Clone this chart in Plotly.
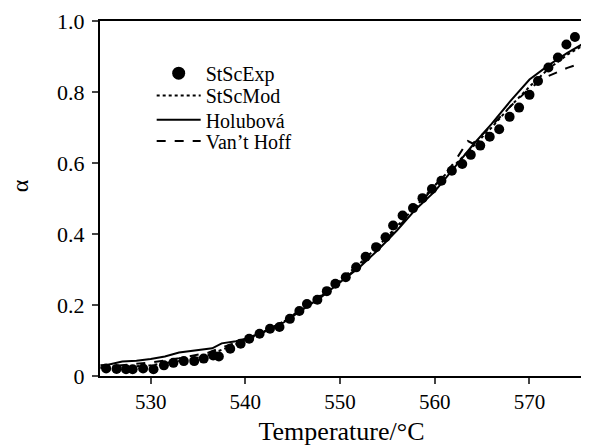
import plotly.graph_objects as go

# Experimental points (StScExp)
exp_T = [525.3, 526.4, 527.4, 528.1, 529.2, 530.3, 531.4, 532.4, 533.5, 534.6, 535.6, 536.6, 537.2,
         538.4, 539.5, 540.4, 541.5, 542.6, 543.6, 544.7, 545.7, 546.5, 547.6, 548.6, 549.5, 550.6,
         551.7, 552.7, 553.8, 554.8, 555.6, 556.6, 557.7, 558.7, 559.7, 560.7, 561.8, 562.9, 563.8,
         564.8, 565.8, 566.8, 567.9, 568.9, 570.0, 570.9, 572.0, 573.0, 573.9, 574.8]
exp_a = [0.021, 0.020, 0.019, 0.019, 0.021, 0.019, 0.030, 0.037, 0.042, 0.042, 0.049, 0.058, 0.055,
         0.077, 0.091, 0.105, 0.119, 0.133, 0.138, 0.161, 0.183, 0.203, 0.215, 0.239, 0.260, 0.278,
         0.306, 0.336, 0.363, 0.391, 0.424, 0.452, 0.473, 0.501, 0.527, 0.550, 0.578, 0.597, 0.623,
         0.649, 0.674, 0.695, 0.730, 0.756, 0.792, 0.831, 0.869, 0.897, 0.934, 0.955]

# StScMod (dotted)
mod_T = [524.7, 527, 530, 532, 534, 536, 538, 540, 542, 544, 546, 548, 550, 552, 554, 556, 558,
         560, 562, 564, 566, 568, 570, 572, 574, 575.6]
mod_a = [0.022, 0.025, 0.030, 0.038, 0.046, 0.058, 0.078, 0.100, 0.125, 0.152, 0.190, 0.228, 0.270,
         0.315, 0.365, 0.420, 0.478, 0.537, 0.592, 0.645, 0.700, 0.760, 0.815, 0.865, 0.905, 0.930]

# Holubová (solid)
hol_T = [524.7, 525.5, 527, 528.5, 530, 531.5, 533, 535, 536.5, 537.5, 539, 540, 542, 544, 546, 548,
         550, 552, 554, 556, 558, 560, 562, 564, 566, 568, 570, 572, 574, 575.6]
hol_a = [0.030, 0.032, 0.041, 0.043, 0.048, 0.055, 0.066, 0.072, 0.078, 0.092, 0.098, 0.105, 0.125,
         0.150, 0.185, 0.222, 0.264, 0.305, 0.355, 0.410, 0.470, 0.520, 0.585, 0.650, 0.710, 0.775,
         0.835, 0.875, 0.910, 0.935]

# Van't Hoff (dashed)
vh_T = [524.7, 527, 530, 533, 536, 538, 540, 542, 544, 546, 548, 550, 552, 554, 556, 558, 560, 562,
        563.5, 564, 566, 568, 570, 572, 574, 575.6]
vh_a = [0.025, 0.030, 0.038, 0.050, 0.065, 0.085, 0.103, 0.125, 0.153, 0.188, 0.225, 0.265, 0.308,
        0.360, 0.415, 0.472, 0.535, 0.600, 0.662, 0.655, 0.705, 0.760, 0.810, 0.845, 0.868, 0.882]

x_ticks = [530, 540, 550, 560, 570]
y_ticks = [0, 0.2, 0.4, 0.6, 0.8, 1.0]
y_ticktext = ["0", "0.2", "0.4", "0.6", "0.8", "1.0"]

FONT = "Liberation Serif, Times New Roman, serif"

fig = go.Figure()
fig.add_trace(go.Scatter(x=exp_T, y=exp_a, mode="markers", name="StScExp", showlegend=False,
                         marker=dict(color="black", size=10)))
fig.add_trace(go.Scatter(x=[None], y=[None], mode="markers", name="StScExp", legend="legend",
                         marker=dict(color="black", size=13)))
fig.add_trace(go.Scatter(x=mod_T, y=mod_a, mode="lines", name="StScMod", legend="legend2",
                         line=dict(color="black", width=2, dash="dot")))
fig.add_trace(go.Scatter(x=hol_T, y=hol_a, mode="lines", name="Holubová", legend="legend3",
                         line=dict(color="black", width=2)))
fig.add_trace(go.Scatter(x=vh_T, y=vh_a, mode="lines", name="Van’t Hoff", legend="legend4",
                         line=dict(color="black", width=2, dash="dash")))

leg_common = dict(x=0.107, xanchor="left", yanchor="middle", bgcolor="rgba(0,0,0,0)",
                  font=dict(size=20, family=FONT, color="black"), itemwidth=44)
fig.update_layout(
    width=581, height=439,
    margin=dict(l=92, r=6, t=13, b=71),
    paper_bgcolor="white", plot_bgcolor="white",
    font=dict(family=FONT, color="black", size=20),
    legend=dict(y=0.853, **leg_common),
    legend2=dict(y=0.790, **leg_common),
    legend3=dict(y=0.722, **leg_common),
    legend4=dict(y=0.662, **leg_common),
    showlegend=True,
    annotations=[dict(text="α", textangle=-90, xref="paper", yref="paper", x=-0.164, y=0.537,
                      xanchor="center", yanchor="middle", showarrow=False,
                      font=dict(size=24, family=FONT, color="black"))],
)
fig.update_xaxes(range=[524.65, 575.65], tickvals=x_ticks, ticks="outside", ticklen=6, tickwidth=2,
                 showline=True, linewidth=2, linecolor="black", mirror=True, showgrid=False,
                 zeroline=False, tickfont=dict(size=21), automargin=False,
                 title=dict(text="Temperature/°C", font=dict(size=26), standoff=9))
fig.update_yaxes(range=[0, 1], tickvals=y_ticks, ticktext=y_ticktext, ticks="outside", ticklen=6,
                 tickwidth=2, showline=True, linewidth=2, linecolor="black", mirror=True,
                 showgrid=False, zeroline=False, tickfont=dict(size=22), ticklabelstandoff=3,
                 automargin=False)

fig.write_html("out.html")
